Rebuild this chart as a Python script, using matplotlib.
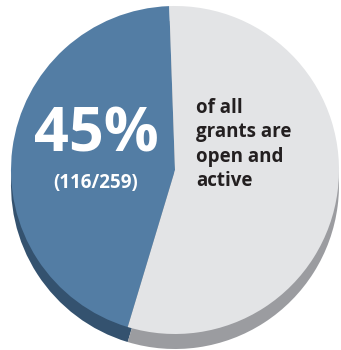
import matplotlib.pyplot as plt

# Grant status counts
labels = ["Open and active", "Other"]
counts = [116, 143]
total = sum(counts)
pct_text = f"{round(counts[0] / total * 100)}%"
ratio_text = f"({counts[0]}/{total})"
caption = "of all\ngrants are\nopen and\nactive"

face_colors = ["#537da4", "#e3e4e6"]
side_colors = ["#34526f", "#9b9ca0"]

W, H = 341, 350
fig = plt.figure(figsize=(W / 100, H / 100), dpi=100)
ax = fig.add_axes([0, 0, 1, 1])

cx, cy, r = 175, H - 170, 164
depth = 15

# side of the disc: same pie shifted down, in darker shades
ax.pie(counts, colors=side_colors, startangle=92, center=(cx, cy - depth),
       radius=r, wedgeprops=dict(linewidth=0), frame=True)
# top face
ax.pie(counts, colors=face_colors, startangle=92, center=(cx, cy),
       radius=r, wedgeprops=dict(linewidth=0), frame=True)
ax.set_xlim(0, W)
ax.set_ylim(0, H)
ax.set_aspect("equal")
ax.axis("off")

ax.text(96, H - 152, pct_text, color="white", fontsize=44, fontweight="bold",
        family="Open Sans", ha="center", va="baseline")
ax.text(96, H - 188, ratio_text, color="white", fontsize=13.5, fontweight="bold",
        family="Open Sans", ha="center", va="baseline")
ax.text(196, H - 98, caption, color="#231f20", fontsize=13.5, fontweight="bold",
        family="Open Sans", ha="left", va="top", linespacing=1.3)

fig.savefig("out.png", dpi=100)
